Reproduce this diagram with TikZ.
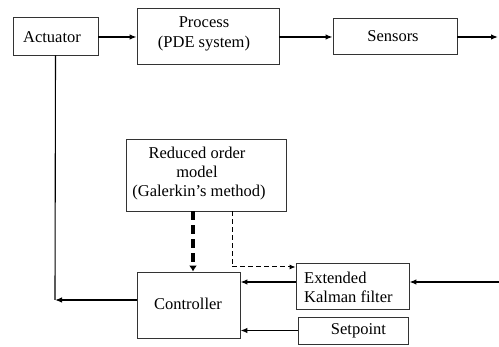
\documentclass[tikz,border=0pt]{standalone}
\usepackage{fontspec}
\setmainfont{Liberation Serif}
\usetikzlibrary{arrows.meta}
\begin{document}
\begin{tikzpicture}[x=1pt,y=-1pt,
  box/.style={draw=black!80,line width=0.9pt,inner sep=0pt,font=\fontsize{16.5}{19}\selectfont},
  lbl/.style={inner sep=0pt,font=\fontsize{16.5}{19}\selectfont,align=center},
  arr/.style={line width=1.3pt,-{Latex[length=7pt,width=5.5pt]}},
  line/.style={line width=1.1pt},
  thickdash/.style={line width=3.5pt,dash pattern=on 9pt off 5pt,-{Latex[length=6pt,width=8pt]}},
  thindash/.style={line width=1pt,dash pattern=on 5pt off 3pt,-{Latex[length=6pt,width=5pt]}}]
\useasboundingbox (0,0) rectangle (499,347);
% boxes
\node[box,minimum width=85pt,minimum height=38pt] (act) at (55.5,36) {};
\node[lbl] (actl) at (52,37) {Actuator};
\node[box,minimum width=142pt,minimum height=56pt] (proc) at (208,36) {};
\node[lbl,align=center] (procl) at (204,34) {Process\\[1pt](PDE system)};
\node[box,minimum width=124pt,minimum height=36pt] (sens) at (395,36) {};
\node[lbl] (sensl) at (393,36) {Sensors};
\node[box,minimum width=160pt,minimum height=72pt] (rom) at (206,175) {};
\node[lbl,align=center] (roml) at (197,174) {Reduced order\\model\\\phantom{.}(Galerkin’s method)};
\node[box,minimum width=103pt,minimum height=66pt] (ctrl) at (188.5,305) {};
\node[lbl] (ctrll) at (188,304) {Controller};
\node[box,minimum width=113pt,minimum height=46pt] (ekf) at (352.5,286) {};
\node[lbl,align=left,anchor=west] (ekfl) at (304,287) {Extended\\Kalman filter};
\node[box,minimum width=110pt,minimum height=27pt] (set) at (353,330.5) {};
\node[lbl] (setl) at (358.5,331) {Setpoint};
% coordinates
\coordinate (out) at (498,37);
\coordinate (cl) at (55,300);
\coordinate (in) at (499,282);
\coordinate (tdtop) at (232,211);
\coordinate (tdcorner) at (232,267);
% connectors
\draw[arr] (act.east |- 0,37) -- (proc.west |- 0,37);
\draw[arr] (proc.east |- 0,37) -- (sens.west |- 0,37);
\draw[arr] (sens.east |- out) -- (out);
\draw[line] (act.south) -- (cl);
\draw[arr] (ctrl.west |- cl) -- (cl);
\draw[thickdash] (rom.south -| 193,0) -- (ctrl.north -| 193,0);
\draw[thindash] (rom.south -| tdtop) -- (tdcorner) -- (ekf.west |- tdcorner);
\draw[arr] (ekf.west |- in) -- (ctrl.east |- in);
\draw[arr] (in) -- (ekf.east |- in);
\draw[arr] (set.west) -- (ctrl.east |- set.west);
\end{tikzpicture}
\end{document}
